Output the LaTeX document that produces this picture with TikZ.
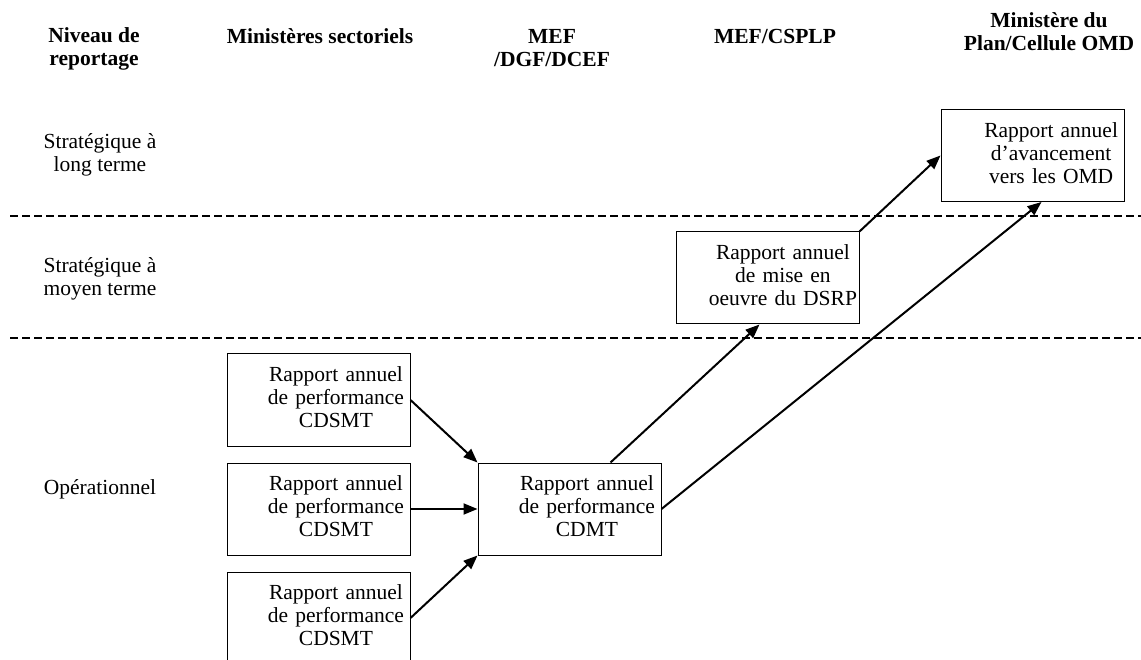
\documentclass[tikz,border=0pt]{standalone}
\usepackage{fontspec}
\setmainfont{Liberation Serif}
\usetikzlibrary{arrows.meta,positioning}

\newcommand{\taille}{\fontsize{21.5}{23}\selectfont}
\newcommand{\lignes}[1]{\begin{tabular}{@{}c@{}}#1\end{tabular}}

\tikzset{
  rapport/.style={draw, line width=1pt, minimum height=92pt, text width=171pt,
    inner xsep=6pt, inner ysep=0pt, align=right},
  entete/.style={font=\taille\bfseries, align=center, inner sep=0pt},
  niveau/.style={align=center, inner sep=0pt},
  fleche/.style={line width=2pt, -{Triangle[length=14pt,width=11pt]}},
  separation/.style={line width=1.8pt, dash pattern=on 8pt off 4pt}
}

\begin{document}
\begin{tikzpicture}[x=1pt, y=-1pt, every node/.style={font=\taille}]
    \useasboundingbox (0,0) rectangle (1141,660);

    % En-tetes des colonnes
    \node[entete] (h-niveau) at (94,48.5) {Niveau de\\reportage};
    \node[entete] (h-sect) at (320,36) {Ministères sectoriels};
    \node[entete] (h-mef) at (552,48.5) {MEF\\/DGF/DCEF};
    \node[entete] (h-csplp) at (775,36) {MEF/CSPLP};
    \node[entete] (h-plan) at (1049,32) {Ministère du\\Plan/Cellule OMD};

    % Niveaux de reportage
    \node[niveau] (n-long) at (100,154.5) {Stratégique à\\long terme};
    \node[niveau] (n-moyen) at (100,278.5) {Stratégique à\\moyen terme};
    \node[niveau] (n-oper) at (100,489) {Opérationnel};

    % Separations
    \draw[separation] (10,216) -- (1141,216);
    \draw[separation] (10,338) -- (1141,338);

    % Rapports
    \node[rapport] (cdsmt1) at (318.5,400) {\lignes{Rapport annuel\\de performance\\CDSMT}};
    \node[rapport, below=16pt of cdsmt1] (cdsmt2) {\lignes{Rapport annuel\\de performance\\CDSMT}};
    \node[rapport, below=16pt of cdsmt2] (cdsmt3) {\lignes{Rapport annuel\\de performance\\CDSMT}};
    \node[rapport, right=67pt of cdsmt2] (cdmt) {\lignes{Rapport annuel\\de performance\\CDMT}};
    \node[rapport, inner xsep=2pt, text width=179pt] (dsrp) at (767.5,278) {\lignes{Rapport annuel\\de mise en\\oeuvre du DSRP}};
    \node[rapport] (omd) at (1032.5,155.5) {\lignes{Rapport annuel\\d'avancement\\vers les OMD}};

    % Flux
    \draw[fleche] (cdsmt1.east) -- (cdmt.north west);
    \draw[fleche] (cdsmt2.east) -- (cdmt.west);
    \draw[fleche] (cdsmt3.east) -- (cdmt.south west);
    \draw[fleche] ([xshift=41pt]cdmt.north) -- ([xshift=-8pt]dsrp.south);
    \draw[fleche] (dsrp.north east) -- (omd.west);
    \draw[fleche] (cdmt.east) -- ([xshift=9pt]omd.south);
\end{tikzpicture}
\end{document}
